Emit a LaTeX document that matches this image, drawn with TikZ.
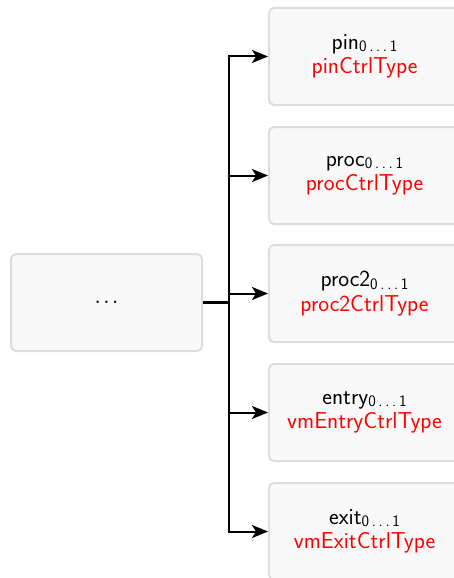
\documentclass[tikz,border=0pt]{standalone}
\usetikzlibrary{arrows.meta}
\definecolor{boxfill}{HTML}{F9F9F9}
\definecolor{boxline}{HTML}{DDDDDD}
\definecolor{typered}{HTML}{FF0000}
% multiplicity subscript with spaced dots
\newcommand{\mult}{\raisebox{-2.5pt}{\fontsize{16}{16}\selectfont 0\,.\,.\,.\,1}}
\begin{document}
\begin{tikzpicture}[x=1pt,y=-1pt,
  elem/.style={draw=boxline,fill=boxfill,line width=2pt,rounded corners=5pt,
    minimum width=191pt,minimum height=97pt,align=center,inner sep=0pt,
    font=\sffamily\fontsize{23}{24.5}\selectfont},
  link/.style={line width=2pt,-{Stealth[length=16pt,width=13pt,inset=4pt]}}]
\useasboundingbox (0,0) rectangle (454,578);
\node[elem,anchor=north west] (root) at (10,253) {\raisebox{-2pt}{$.\kern2pt.\kern2pt.$}};
\coordinate (j) at (229,302);
\node[elem,anchor=north west] (pin) at (268,7) {pin\mult\\\textcolor{typered}{pinCtrlType}};
\node[elem,anchor=north west] (proc) at (268,126) {proc\mult\\\textcolor{typered}{procCtrlType}};
\node[elem,anchor=north west] (proc2) at (268,244) {proc2\mult\\\textcolor{typered}{proc2CtrlType}};
\node[elem,anchor=north west] (entry) at (268,363) {entry\mult\\\textcolor{typered}{vmEntryCtrlType}};
\node[elem,anchor=north west] (exit) at (268,482) {exit\mult\\\textcolor{typered}{vmExitCtrlType}};
\draw[line width=3pt] (root.east |- j) -- (j);
\foreach \t in {pin,proc,proc2,entry,exit}
  \draw[link] (j) |- (\t.west);
\end{tikzpicture}
\end{document}
